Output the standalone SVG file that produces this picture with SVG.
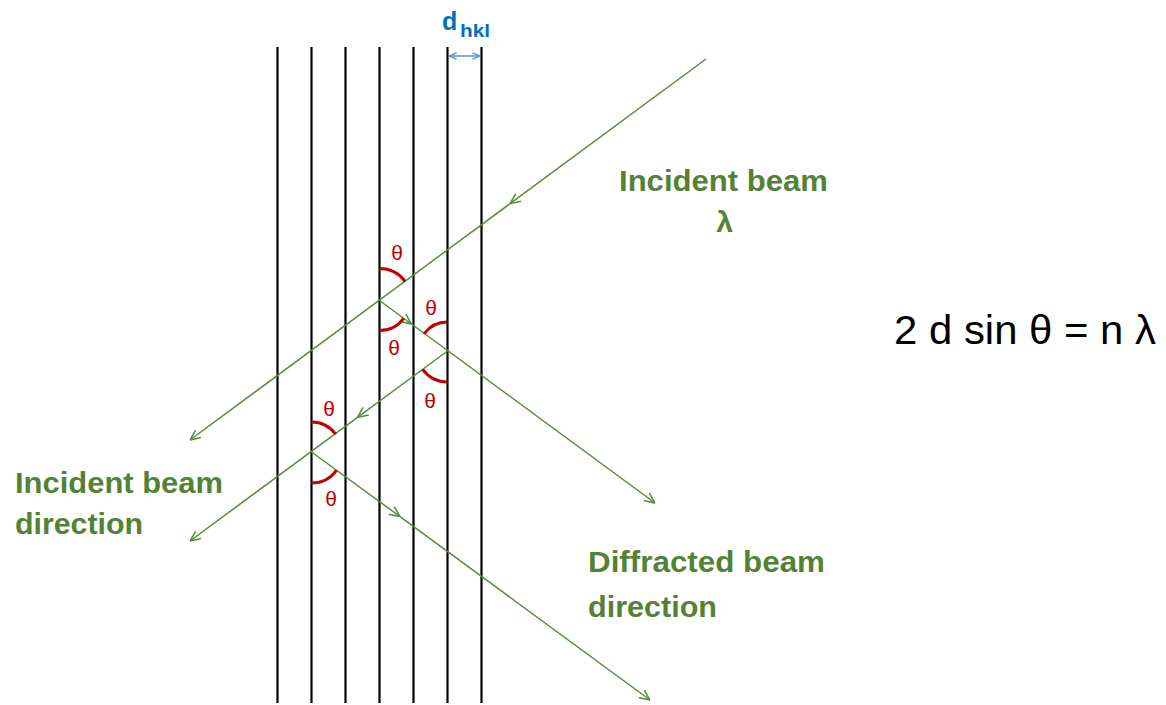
<svg xmlns="http://www.w3.org/2000/svg" width="1166" height="705" viewBox="0 0 1166 705">
  <style>
    .plane { stroke: #000; stroke-width: 2.2; fill: none; }
    .beam { stroke: #5b8c3a; stroke-width: 1.5; fill: none; marker-mid: url(#chev); marker-end: url(#chev); }
    .arc { stroke: #c00000; stroke-width: 3; fill: none; }
    .theta { fill: #c00000; font-family: "Liberation Sans", Arial, sans-serif; font-size: 21px; text-anchor: middle; }
    .lbl { fill: #548235; font-family: "Liberation Sans", Arial, sans-serif; font-size: 30px; font-weight: bold; }
    .eq { fill: #000; font-family: "Liberation Sans", Arial, sans-serif; font-size: 40px; }
    .dhkl { fill: #0070c0; font-family: "Liberation Sans", Arial, sans-serif; font-weight: bold; }
  </style>
  <defs>
    <marker id="chev" viewBox="0 0 10 10" refX="10" refY="5" markerWidth="11" markerHeight="11" markerUnits="userSpaceOnUse" orient="auto">
      <path d="M0.5,0.8 L10,5 L0.5,9.2" fill="none" stroke="#5b8c3a" stroke-width="1.4"/>
    </marker>
    <marker id="bchev" viewBox="0 0 10 10" refX="10" refY="5" markerWidth="8" markerHeight="8" markerUnits="userSpaceOnUse" orient="auto-start-reverse">
      <path d="M0.5,1 L10,5 L0.5,9" fill="none" stroke="#5b9bd5" stroke-width="1.8"/>
    </marker>
  </defs>

  <g id="planes">
    <line class="plane" x1="277.5" y1="47" x2="277.5" y2="703"/>
    <line class="plane" x1="311.5" y1="47" x2="311.5" y2="703"/>
    <line class="plane" x1="345.5" y1="47" x2="345.5" y2="703"/>
    <line class="plane" x1="379.5" y1="47" x2="379.5" y2="703"/>
    <line class="plane" x1="413.5" y1="47" x2="413.5" y2="703"/>
    <line class="plane" x1="447.5" y1="47" x2="447.5" y2="703"/>
    <line class="plane" x1="481.5" y1="47" x2="481.5" y2="703"/>
  </g>

  <g id="connectors">
    <polyline class="beam" points="706,59 510,203.7 190,440"/>
    <polyline class="beam" points="379.5,300.5 411.5,324 655,503"/>
    <polyline class="beam" points="447.5,351 357.5,417.4 190,541"/>
    <polyline class="beam" points="311.5,452 400,516.6 650,700"/>
  </g>

  <g id="angles">
    <path class="arc" d="M379.5,268.5 A32,32 0 0 1 405.2,281.5"/>
    <path class="arc" d="M403.7,318.3 A30,30 0 0 1 379.5,330.5"/>
    <path class="arc" d="M424.1,333.8 A29,29 0 0 1 447.5,322"/>
    <path class="arc" d="M447.5,382 A31,31 0 0 1 422.6,369.4"/>
    <path class="arc" d="M311.5,422 A30,30 0 0 1 335.6,434.2"/>
    <path class="arc" d="M336.5,470.3 A31,31 0 0 1 311.5,483"/>
    <text class="theta" x="397" y="259.5">θ</text>
    <text class="theta" x="394" y="354.5">θ</text>
    <text class="theta" x="431" y="314.5">θ</text>
    <text class="theta" x="430" y="407.5">θ</text>
    <text class="theta" x="329" y="415.5">θ</text>
    <text class="theta" x="331" y="505.5">θ</text>
  </g>

  <g id="dhkl">
    <text class="dhkl" x="442" y="30" font-size="25">d</text>
    <text class="dhkl" x="460" y="37" font-size="19" textLength="30" lengthAdjust="spacingAndGlyphs">hkl</text>
    <line x1="449" y1="56" x2="480" y2="56" stroke="#5b9bd5" stroke-width="1.6" marker-start="url(#bchev)" marker-end="url(#bchev)"/>
  </g>

  <g id="incident-beam">
    <text class="lbl" x="619" y="191" textLength="209" lengthAdjust="spacingAndGlyphs">Incident beam</text>
    <text class="lbl" x="724.5" y="232" text-anchor="middle">λ</text>
  </g>

  <g id="incident-direction">
    <text class="lbl" x="15" y="493" textLength="208" lengthAdjust="spacingAndGlyphs">Incident beam</text>
    <text class="lbl" x="15" y="534" textLength="128" lengthAdjust="spacingAndGlyphs">direction</text>
  </g>

  <g id="diffracted-direction">
    <text class="lbl" x="588" y="572" textLength="237" lengthAdjust="spacingAndGlyphs">Diffracted beam</text>
    <text class="lbl" x="588" y="617" textLength="129" lengthAdjust="spacingAndGlyphs">direction</text>
  </g>

  <g id="equation">
    <text class="eq" x="894" y="344" textLength="262" lengthAdjust="spacingAndGlyphs">2 d sin θ = n λ</text>
  </g>
</svg>
